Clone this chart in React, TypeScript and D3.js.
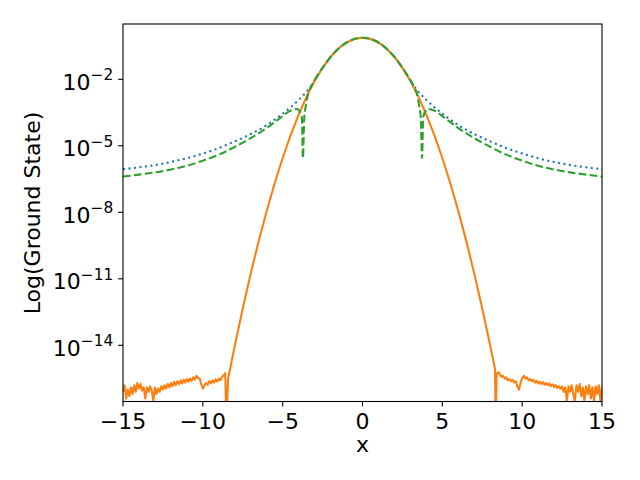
import React from "react";
import * as d3 from "d3";

const width = 640;
const height = 480;
const margin = { top: 24, right: 38, bottom: 78.5, left: 123 };

// log10 of the values
const xTicks = [-15, -10, -5, 0, 5, 10, 15];
const yTickExps = [-2, -5, -8, -11, -14];

// blue dotted and green dashed are symmetric: x >= 0 half
const blueX = [0, 0.5, 1, 1.5, 2, 2.5, 3, 3.25, 3.5, 4, 4.5, 5, 5.5, 6, 7, 8, 9, 10, 11, 12, 13, 14, 15];
const blueLog = [-0.124, -0.178, -0.341, -0.613, -0.993, -1.481, -2.06, -2.33, -2.56, -2.93, -3.26, -3.55, -3.82, -4.07, -4.47, -4.8, -5.1, -5.35, -5.56, -5.73, -5.87, -5.97, -6.06];

const greenX = [0, 0.5, 1, 1.5, 2, 2.5, 3, 3.2, 3.4, 3.55, 3.65, 3.73, 3.8, 3.9, 4.1, 4.3, 4.6, 5, 5.5, 6, 7, 8, 9, 10, 11, 12, 13, 14, 15];
const greenLog = [-0.124, -0.178, -0.341, -0.613, -0.993, -1.48, -2.04, -2.3, -2.64, -3.2, -3.75, -5.55, -3.72, -3.5, -3.34, -3.36, -3.45, -3.66, -3.93, -4.2, -4.65, -5.05, -5.4, -5.67, -5.9, -6.07, -6.2, -6.3, -6.39];

// orange: noise floor left, zero crossing, main peak, zero crossing, noise floor right
const noiseLeftStart = -15;
const noiseLeftLog = [
  -16.1, -15.8, -16.4, -16.0, -16.3, -15.9, -16.2, -15.8, -16.1, -15.7,
  -15.95, -15.75, -16.05, -15.9, -16.4, -15.9, -16.1, -15.85, -16.05, -16.5,
  -15.9, -16.2, -15.95, -16.1, -15.85, -16.0, -15.8, -15.95, -15.75, -15.9,
  -15.7, -15.85, -15.65, -15.8, -15.62, -15.75, -15.58, -15.72, -15.55, -15.68,
  -15.52, -15.64, -15.5, -15.6, -15.44, -15.55, -15.38, -15.48, -15.5, -15.75,
  -15.95, -15.8, -15.7, -15.78, -15.62, -15.72, -15.58, -15.68, -15.54, -15.64,
  -15.5, -15.58, -15.42, -15.36, -15.25,
];
const coreX = [-8.52, -8.42, -8, -7.5, -7, -6.5, -6, -5.5, -5, -4.5, -4, -3.5, -3, -2.5, -2, -1.5, -1, -0.5, 0,
  0.5, 1, 1.5, 2, 2.5, 3, 3.5, 4, 4.5, 5, 5.5, 6, 6.5, 7, 7.5, 8, 8.3, 8.34];
const coreLog = [-17.5, -15.52, -14.02, -12.34, -10.76, -9.3, -7.94, -6.69, -5.55, -4.52, -3.6, -2.78, -2.08, -1.48, -0.99, -0.61, -0.34, -0.18, -0.124,
  -0.18, -0.34, -0.61, -0.99, -1.48, -2.08, -2.78, -3.6, -4.52, -5.55, -6.69, -7.94, -9.3, -10.76, -12.34, -14.02, -15.08, -17.5];
const noiseRightStart = 8.4;
const noiseRightLog = [
  -15.32, -15.21, -15.3, -15.42, -15.38, -15.5, -15.45, -15.58, -15.52, -15.62,
  -15.56, -15.68, -15.62, -15.85, -16.0, -15.7, -15.48, -15.38, -15.5, -15.45,
  -15.58, -15.52, -15.62, -15.56, -15.68, -15.6, -15.72, -15.64, -15.75, -15.66,
  -15.78, -15.7, -15.8, -15.72, -15.84, -15.76, -15.88, -15.8, -15.92, -15.84,
  -15.96, -15.85, -16.1, -15.9, -16.5, -15.85, -16.1, -15.8, -16.2, -16.5,
  -15.8, -16.1, -15.75, -16.3, -15.9, -16.5, -15.85, -16.2, -15.8, -16.4,
  -15.9, -16.5, -15.85, -16.2, -15.8, -16.5, -15.9,
];
const noiseStep = 0.1;

type Pt = [number, number];

const mirror = (xs: number[], ls: number[]): Pt[] => {
  const right: Pt[] = xs.map((x, i) => [x, ls[i]]);
  const left: Pt[] = right.slice(1).map(([x, l]) => [-x, l] as Pt).reverse();
  return [...left, ...right];
};

const bluePts = mirror(blueX, blueLog);
const greenPts = mirror(greenX, greenLog);
const orangePts: Pt[] = [
  ...noiseLeftLog.map((l, i) => [noiseLeftStart + i * noiseStep, l] as Pt),
  ...coreX.map((x, i) => [x, coreLog[i]] as Pt),
  ...noiseRightLog.map((l, i) => [noiseRightStart + i * noiseStep, l] as Pt),
];

const font = "DejaVu Sans, sans-serif";
const fs = 22;

export default function App() {
  const iw = width - margin.left - margin.right;
  const ih = height - margin.top - margin.bottom;

  const x = d3.scaleLinear().domain([-15, 15]).range([0, iw]);
  const y = d3.scaleLog().domain([Math.pow(10, -16.535), Math.pow(10, 0.494)]).range([ih, 0]);

  const line = d3
    .line<Pt>()
    .x((d) => x(d[0]))
    .y((d) => y(Math.pow(10, d[1])));
  const smooth = d3
    .line<Pt>()
    .x((d) => x(d[0]))
    .y((d) => y(Math.pow(10, d[1])))
    .curve(d3.curveMonotoneX);

  return (
    <svg width={width} height={height} style={{ position: "absolute", left: 0, top: 0, background: "#fff" }}>
      <defs>
        <clipPath id="plot">
          <rect x={0} y={0} width={iw} height={ih} />
        </clipPath>
      </defs>
      <g transform={`translate(${margin.left},${margin.top})`}>
        <g clipPath="url(#plot)" fill="none" strokeWidth={2.08}>
          <path d={smooth(bluePts) || ""} stroke="#1f77b4" strokeDasharray="2.08 3.44" />
          <path d={line(orangePts) || ""} stroke="#ff7f0e" strokeLinejoin="round" />
          <path d={smooth(greenPts) || ""} stroke="#2ca02c" strokeDasharray="7.7 3.33" />
        </g>
        <rect x={0} y={0} width={iw} height={ih} fill="none" stroke="#000" strokeWidth={1.1} />
        {xTicks.map((t) => (
          <g key={t} transform={`translate(${x(t)},${ih})`}>
            <line y2={4.9} stroke="#000" strokeWidth={1.1} />
            <text y={27} textAnchor="middle" fontFamily={font} fontSize={fs} fill="#000">
              {t < 0 ? `\u2212${-t}` : `${t}`}
            </text>
          </g>
        ))}
        {yTickExps.map((e) => (
          <g key={e} transform={`translate(0,${y(Math.pow(10, e))})`}>
            <line x2={-4.9} stroke="#000" strokeWidth={1.1} />
            <text x={-9.7} y={10.5} textAnchor="end" fontFamily={font} fontSize={fs} fill="#000">
              10
              <tspan dy={-9.5} fontSize={15.4}>{`\u2212${-e}`}</tspan>
            </text>
          </g>
        ))}
        <text x={iw / 2} y={height - margin.top - 28} textAnchor="middle" fontFamily={font} fontSize={fs} fill="#000">
          x
        </text>
      </g>
      <text
        transform={`translate(40,213) rotate(-90)`}
        textAnchor="middle"
        fontFamily={font}
        fontSize={fs}
        fill="#000"
      >
        Log(Ground State)
      </text>
    </svg>
  );
}
